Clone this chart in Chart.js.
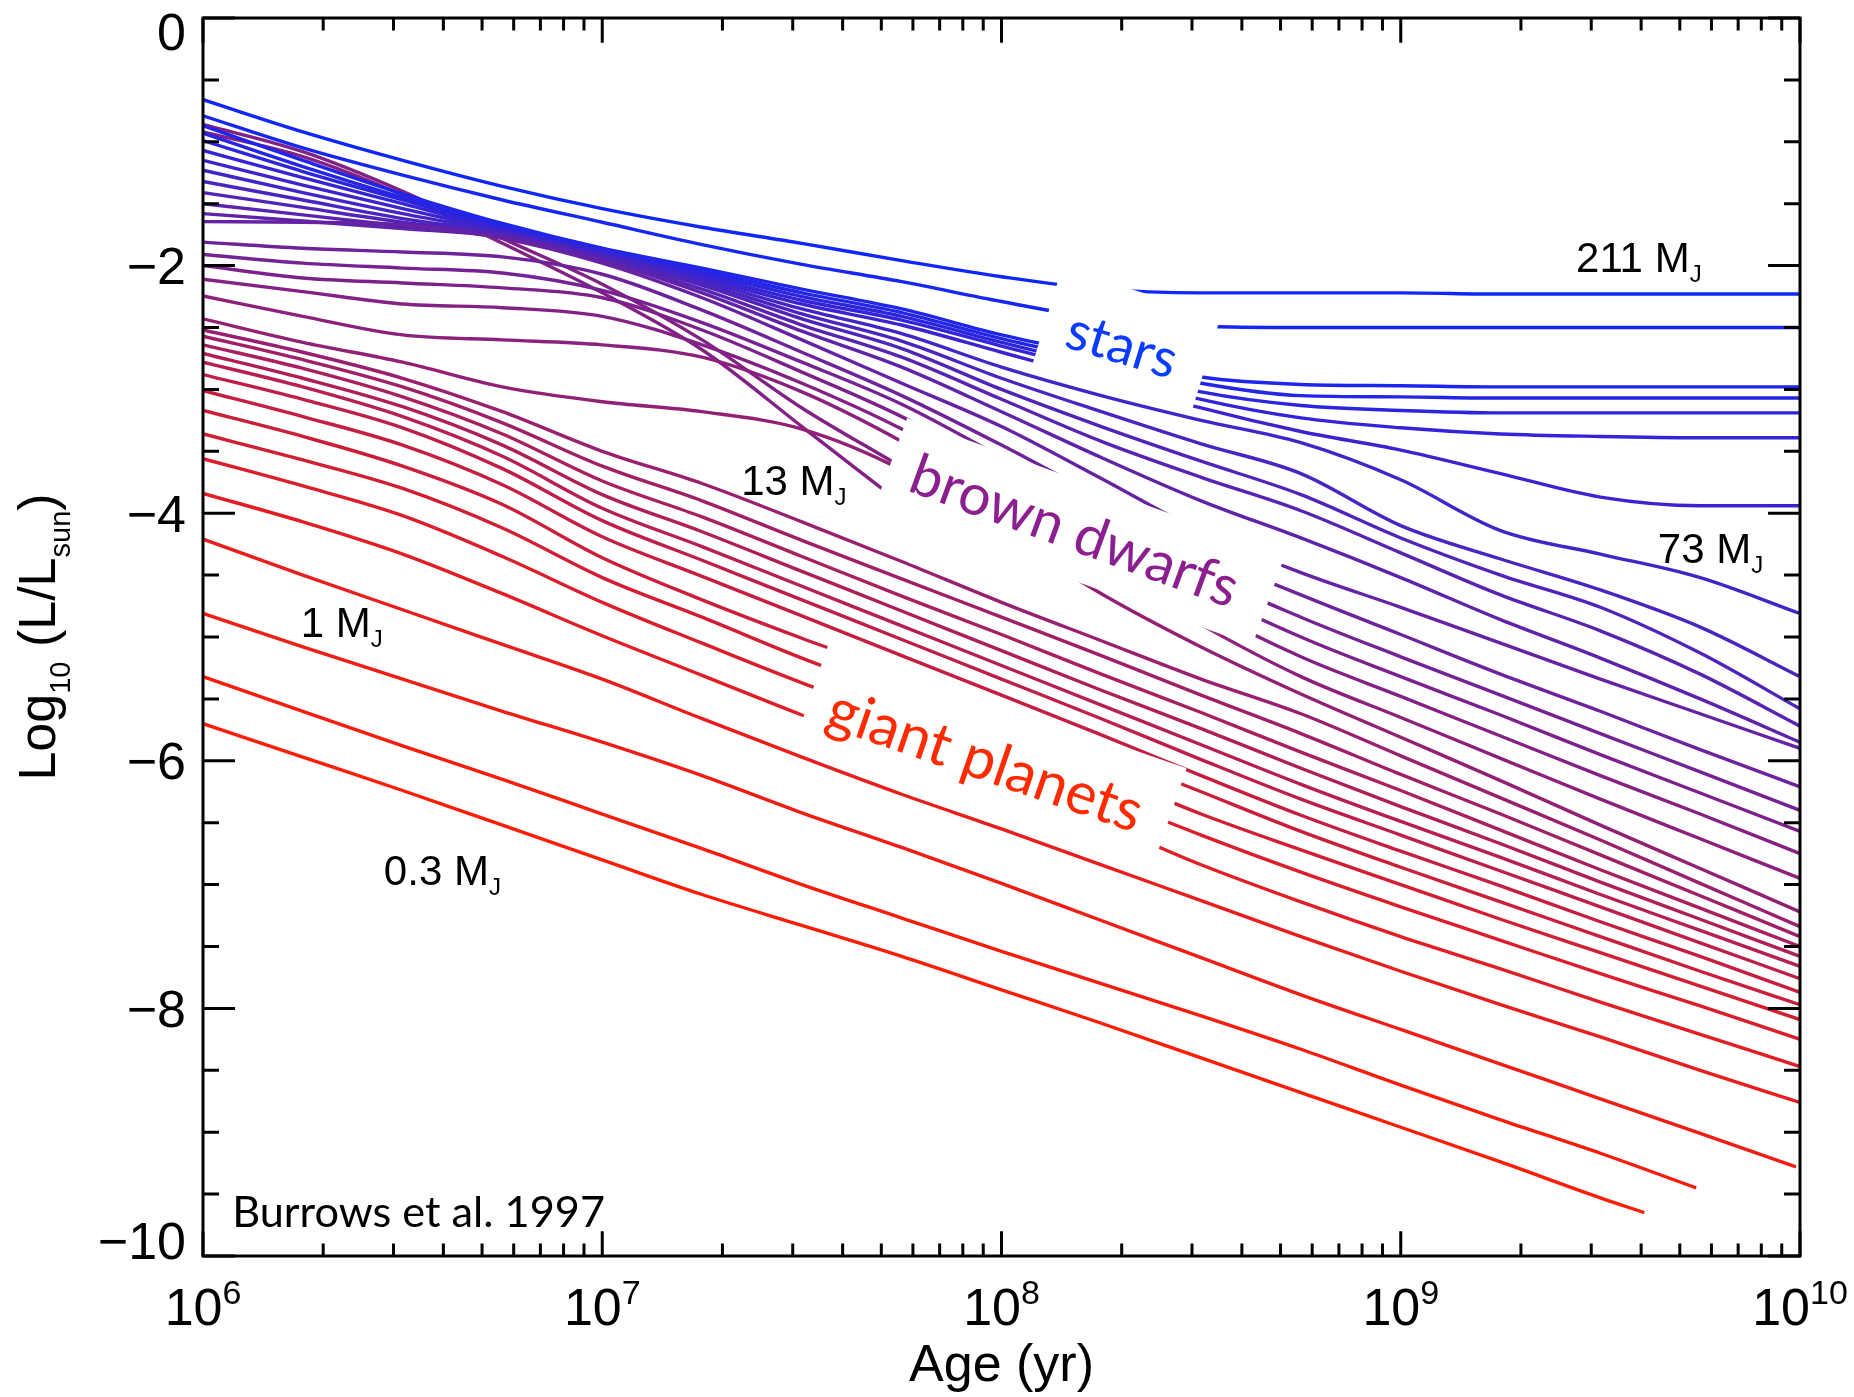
<!DOCTYPE html>
<html lang="en">
<head>
<meta charset="UTF-8">
<title>Luminosity evolution</title>
<script src="https://cdn.jsdelivr.net/npm/chart.js"></script>
<style>
  html, body { margin: 0; padding: 0; background: #fff; }
  canvas { display: block; }
</style>
</head>
<body>
<canvas id="lumChart" width="1854" height="1397"></canvas>
<script>
// log10(age / yr) sample points shared by most tracks
const ageGrid = [6.0, 6.25, 6.5, 6.75, 7.0, 7.25, 7.5, 7.75, 8.0, 8.25, 8.5, 8.75, 9.0, 9.25, 9.5, 9.75, 10.0];
// the three lightest tracks stop before 10 Gyr
const ageTrack01 = [6.0, 6.25, 6.5, 6.75, 7.0, 7.25, 7.5, 7.75, 8.0, 8.25, 8.5, 8.75, 9.0, 9.25, 9.5, 9.61];
const ageTrack02 = [6.0, 6.25, 6.5, 6.75, 7.0, 7.25, 7.5, 7.75, 8.0, 8.25, 8.5, 8.75, 9.0, 9.25, 9.5, 9.74];
const ageTrack03 = [6.0, 6.25, 6.5, 6.75, 7.0, 7.25, 7.5, 7.75, 8.0, 8.25, 8.5, 8.75, 9.0, 9.25, 9.5, 9.75, 9.99];

// log10(L/Lsun), lightest track first
const track01 = [-5.70, -5.97, -6.24, -6.52, -6.80, -7.08, -7.33, -7.58, -7.85, -8.12, -8.40, -8.68, -8.96, -9.24, -9.53, -9.65];
const track02 = [-5.32, -5.60, -5.88, -6.15, -6.43, -6.71, -7.00, -7.27, -7.54, -7.80, -8.06, -8.33, -8.62, -8.90, -9.17, -9.45];
const track03 = [-4.81, -5.08, -5.34, -5.60, -5.85, -6.12, -6.42, -6.70, -6.99, -7.29, -7.59, -7.89, -8.17, -8.45, -8.73, -9.01, -9.28];
const track04 = [-4.21, -4.50, -4.78, -5.06, -5.34, -5.66, -5.97, -6.27, -6.55, -6.84, -7.13, -7.42, -7.70, -7.97, -8.23, -8.50, -8.76];
const track05 = [-3.84, -4.07, -4.33, -4.65, -4.99, -5.31, -5.63, -5.93, -6.20, -6.50, -6.84, -7.14, -7.42, -7.68, -7.95, -8.21, -8.47];
const track06 = [-3.56, -3.78, -4.02, -4.35, -4.72, -5.05, -5.37, -5.66, -5.96, -6.28, -6.60, -6.90, -7.18, -7.45, -7.72, -7.98, -8.25];
const track07 = [-3.36, -3.57, -3.80, -4.12, -4.52, -4.84, -5.17, -5.47, -5.78, -6.10, -6.43, -6.72, -7.00, -7.28, -7.55, -7.82, -8.09];
const track08 = [-3.17, -3.38, -3.62, -3.93, -4.36, -4.70, -5.01, -5.30, -5.61, -5.93, -6.25, -6.57, -6.86, -7.14, -7.42, -7.70, -7.97];
const track09 = [-3.01, -3.22, -3.45, -3.77, -4.19, -4.51, -4.83, -5.15, -5.47, -5.79, -6.12, -6.44, -6.73, -7.01, -7.30, -7.58, -7.87];
const track10 = [-2.88, -3.08, -3.31, -3.64, -4.06, -4.38, -4.70, -5.02, -5.34, -5.66, -5.99, -6.31, -6.60, -6.89, -7.18, -7.47, -7.76];
const track11 = [-2.78, -2.98, -3.22, -3.54, -3.96, -4.27, -4.59, -4.91, -5.23, -5.55, -5.87, -6.19, -6.49, -6.78, -7.08, -7.37, -7.66];
const track12 = [-2.71, -2.91, -3.14, -3.45, -3.85, -4.15, -4.47, -4.79, -5.11, -5.43, -5.74, -6.06, -6.37, -6.67, -6.98, -7.28, -7.58];
const track13 = [-2.64, -2.83, -3.06, -3.36, -3.74, -4.03, -4.35, -4.67, -4.98, -5.30, -5.61, -5.93, -6.24, -6.56, -6.88, -7.19, -7.50];
const track14 = [-2.57, -2.76, -2.98, -3.27, -3.62, -3.90, -4.22, -4.53, -4.84, -5.15, -5.47, -5.78, -6.11, -6.43, -6.76, -7.09, -7.42];
const track15 = [-2.52, -2.70, -2.91, -3.18, -3.50, -3.76, -4.07, -4.39, -4.72, -5.03, -5.34, -5.62, -5.96, -6.30, -6.64, -6.99, -7.34];
const track16 = [-2.43, -2.62, -2.78, -2.98, -3.10, -3.18, -3.32, -3.65, -4.15, -4.65, -5.08, -5.46, -5.81, -6.16, -6.52, -6.87, -7.22];
const track17 = [-2.245, -2.41, -2.56, -2.60, -2.64, -2.74, -3.02, -3.42, -3.90, -4.42, -4.90, -5.32, -5.65, -5.98, -6.31, -6.63, -6.95];
const track18 = [-2.11, -2.21, -2.31, -2.34, -2.41, -2.64, -2.95, -3.32, -3.78, -4.28, -4.76, -5.16, -5.48, -5.80, -6.12, -6.43, -6.75];
const track19 = [-2.00, -2.10, -2.14, -2.18, -2.26, -2.52, -2.86, -3.22, -3.66, -4.15, -4.62, -5.00, -5.32, -5.63, -5.95, -6.26, -6.57];
const track20 = [-1.91, -1.98, -2.02, -2.06, -2.20, -2.46, -2.78, -3.12, -3.55, -4.02, -4.48, -4.84, -5.16, -5.47, -5.78, -6.09, -6.40];
const track21 = [-1.81, -1.86, -1.89, -1.93, -2.07, -2.36, -2.70, -3.05, -3.45, -3.88, -4.32, -4.66, -4.98, -5.30, -5.60, -5.91, -6.21];
const track22 = [-1.645, -1.65, -1.67, -1.78, -1.98, -2.26, -2.60, -2.95, -3.30, -3.72, -4.15, -4.48, -4.76, -5.05, -5.34, -5.62, -5.90];
const track23 = [-1.58, -1.64, -1.70, -1.77, -1.96, -2.22, -2.53, -2.82, -3.18, -3.55, -3.90, -4.20, -4.52, -4.86, -5.17, -5.50, -5.85];
const track24 = [-1.50, -1.59, -1.68, -1.76, -1.95, -2.19, -2.48, -2.74, -3.08, -3.42, -3.71, -3.98, -4.32, -4.66, -4.95, -5.30, -5.72];
const track25 = [-1.41, -1.53, -1.65, -1.75, -1.94, -2.16, -2.43, -2.67, -3.00, -3.30, -3.58, -3.85, -4.20, -4.50, -4.76, -5.13, -5.58];
const track26 = [-1.32, -1.47, -1.62, -1.74, -1.92, -2.14, -2.39, -2.61, -2.91, -3.18, -3.44, -3.68, -4.10, -4.37, -4.62, -4.92, -5.32];
const track27 = [-1.23, -1.41, -1.58, -1.73, -1.91, -2.12, -2.35, -2.55, -2.82, -3.05, -3.25, -3.43, -3.73, -4.14, -4.33, -4.52, -4.81];
const track28 = [-1.15, -1.35, -1.54, -1.72, -1.90, -2.10, -2.31, -2.48, -2.70, -2.92, -3.15, -3.34, -3.49, -3.68, -3.87, -3.94, -3.94];
const track29 = [-1.07, -1.29, -1.50, -1.71, -1.89, -2.08, -2.28, -2.44, -2.65, -2.86, -3.08, -3.23, -3.31, -3.36, -3.38, -3.39, -3.39];
const track30 = [-0.99, -1.24, -1.47, -1.70, -1.88, -2.06, -2.25, -2.41, -2.62, -2.82, -3.02, -3.13, -3.17, -3.19, -3.19, -3.19, -3.19];
const track31 = [-0.93, -1.20, -1.45, -1.68, -1.87, -2.04, -2.22, -2.38, -2.59, -2.77, -2.95, -3.05, -3.06, -3.07, -3.07, -3.07, -3.07];
const track32 = [-0.87, -1.15, -1.42, -1.66, -1.86, -2.02, -2.19, -2.35, -2.56, -2.73, -2.90, -2.96, -2.97, -2.98, -2.98, -2.98, -2.98];
const track33 = [-0.79, -1.05, -1.27, -1.47, -1.65, -1.83, -1.99, -2.13, -2.29, -2.43, -2.49, -2.50, -2.50, -2.50, -2.50, -2.50, -2.50];
const track34 = [-0.66, -0.92, -1.15, -1.36, -1.54, -1.69, -1.82, -1.96, -2.09, -2.19, -2.22, -2.22, -2.22, -2.23, -2.23, -2.23, -2.23];

// two short steep segments that stop at the brown dwarf label
const ageDropUpper = [6.0, 6.25, 6.5, 6.75, 7.0, 7.25, 7.5, 7.73];
const dropUpper = [-0.86, -1.08, -1.40, -1.78, -2.15, -2.60, -3.15, -3.59];
const ageDropLower = [6.0, 6.25, 6.5, 6.75, 7.0, 7.25, 7.5, 7.70];
const dropLower = [-0.92, -1.12, -1.43, -1.82, -2.22, -2.68, -3.30, -3.80];

// axis ticks
const yMajorTicks = [0, -2, -4, -6, -8, -10];
const yTickLabels = ['0', '\u22122', '\u22124', '\u22126', '\u22128', '\u221210'];
const xDecades = [6, 7, 8, 9, 10];

const tracks = [track01, track02, track03, track04, track05, track06, track07, track08, track09, track10,
                track11, track12, track13, track14, track15, track16, track17, track18, track19, track20,
                track21, track22, track23, track24, track25, track26, track27, track28, track29, track30,
                track31, track32, track33, track34];
const trackAges = tracks.map((_, i) => [ageTrack01, ageTrack02, ageTrack03][i] || ageGrid);

const RED = [255, 28, 5];
const BLUE = [15, 38, 252];
function mixColor(t) {
  const c = RED.map((r, k) => Math.round(r + (BLUE[k] - r) * t));
  return `rgb(${c[0]},${c[1]},${c[2]})`;
}
function toPoints(ages, lums) {
  return ages.map((a, i) => ({ x: a, y: lums[i] }));
}

const LINE_W = 3.4;
const datasets = tracks.map((lum, i) => ({
  data: toPoints(trackAges[i], lum),
  borderColor: mixColor(i / (tracks.length - 1)),
  borderWidth: LINE_W,
  pointRadius: 0,
  fill: false,
  cubicInterpolationMode: 'monotone'
}));
[[ageDropUpper, dropUpper], [ageDropLower, dropLower]].forEach(([a, l]) => {
  datasets.push({
    data: toPoints(a, l),
    borderColor: mixColor(0.52),
    borderWidth: LINE_W,
    pointRadius: 0,
    fill: false,
    cubicInterpolationMode: 'monotone'
  });
});

const SANS = '"Liberation Sans", Arial, Helvetica, sans-serif';
const HUMAN = 'Lato, "Open Sans", sans-serif';

// text made of runs with their own size and vertical shift
function drawRuns(ctx, runs, x, y, align) {
  let total = 0;
  runs.forEach(r => { ctx.font = `${r.size}px ${SANS}`; r.w = ctx.measureText(r.t).width; total += r.w; });
  let cx = align === 'center' ? x - total / 2 : (align === 'right' ? x - total : x);
  ctx.textAlign = 'left';
  ctx.textBaseline = 'alphabetic';
  runs.forEach(r => {
    ctx.font = `${r.size}px ${SANS}`;
    ctx.fillText(r.t, cx, y + (r.dy || 0));
    cx += r.w;
  });
}

// rotated group labels on a white panel; box = [u0, u1, v0, v1] around the text centre
const groupTags = [
  { text: 'stars', x: 8.302, y: -2.641, angle: 17, width: 113, color: '#0a3cff', box: [-80, 86, -56, 46] },
  { text: 'brown dwarfs', x: 8.184, y: -4.136, angle: 20, width: 345, color: '#8c1f8f', box: [-196, 206, -48, 48] },
  { text: 'giant planets', x: 7.956, y: -6.026, angle: 19, width: 329, color: '#ff2a00', box: [-186, 193, -62, 44] }
];

const massTags = [
  { num: '211 M', x: 9.439, y: -2.052 },
  { num: '73 M', x: 9.644, y: -4.402 },
  { num: '13 M', x: 7.348, y: -3.853 },
  { num: '1 M', x: 6.245, y: -5.0 },
  { num: '0.3 M', x: 6.453, y: -7.003 }
];

const decorations = {
  id: 'decorations',
  afterDatasetsDraw(chart) {
    const { ctx, scales: { x, y } } = chart;
    groupTags.forEach(tag => {
      ctx.save();
      ctx.translate(x.getPixelForValue(tag.x), y.getPixelForValue(tag.y));
      ctx.rotate(tag.angle * Math.PI / 180);
      ctx.fillStyle = '#fff';
      const [u0, u1, v0, v1] = tag.box;
      ctx.fillRect(u0, v0, u1 - u0, v1 - v0);
      ctx.font = `100px ${HUMAN}`;
      const size = 100 * tag.width / ctx.measureText(tag.text).width;
      ctx.font = `${size}px ${HUMAN}`;
      const m = ctx.measureText(tag.text);
      ctx.fillStyle = tag.color;
      ctx.textAlign = 'center';
      ctx.textBaseline = 'alphabetic';
      ctx.fillText(tag.text, 0, (m.actualBoundingBoxAscent - m.actualBoundingBoxDescent) / 2);
      ctx.restore();
    });
  },
  afterDraw(chart) {
    const { ctx, chartArea: a, scales: { x, y } } = chart;
    ctx.save();
    ctx.strokeStyle = '#000';
    ctx.fillStyle = '#000';
    ctx.lineWidth = 3;
    ctx.lineCap = 'butt';

    // frame
    ctx.strokeRect(a.left, a.top, a.right - a.left, a.bottom - a.top);

    const xMajor = 0.02 * (a.bottom - a.top);
    const yMajor = 0.02 * (a.right - a.left);
    ctx.beginPath();
    // x ticks, bottom and top
    xDecades.forEach((d, i) => {
      const px = x.getPixelForValue(d);
      ctx.moveTo(px, a.bottom); ctx.lineTo(px, a.bottom - xMajor);
      ctx.moveTo(px, a.top); ctx.lineTo(px, a.top + xMajor);
      if (i < xDecades.length - 1) {
        for (let k = 2; k <= 9; k++) {
          const pm = x.getPixelForValue(d + Math.log10(k));
          ctx.moveTo(pm, a.bottom); ctx.lineTo(pm, a.bottom - xMajor / 2);
          ctx.moveTo(pm, a.top); ctx.lineTo(pm, a.top + xMajor / 2);
        }
      }
    });
    // y ticks, left and right
    for (let v = 0; v >= -10; v -= 0.5) {
      const py = y.getPixelForValue(v);
      const len = yMajorTicks.includes(v) ? yMajor : yMajor / 2;
      ctx.moveTo(a.left, py); ctx.lineTo(a.left + len, py);
      ctx.moveTo(a.right, py); ctx.lineTo(a.right - len, py);
    }
    ctx.stroke();

    // y tick labels (end labels kept inside the frame height)
    ctx.font = `52px ${SANS}`;
    ctx.textAlign = 'right';
    ctx.textBaseline = 'alphabetic';
    yMajorTicks.forEach((v, i) => {
      let cy = y.getPixelForValue(v);
      if (v === 0) cy += 13;
      if (v === -10) cy -= 16;
      ctx.fillText(yTickLabels[i], a.left - 17, cy + 18.6);
    });

    // x tick labels 10^n
    xDecades.forEach(d => {
      drawRuns(ctx, [{ t: '10', size: 52 }, { t: String(d), size: 34, dy: -21 }],
        x.getPixelForValue(d), a.bottom + 69, 'center');
    });

    // axis titles
    drawRuns(ctx, [{ t: 'Age (yr)', size: 52 }], (a.left + a.right) / 2, a.bottom + 125, 'center');
    ctx.save();
    ctx.translate(55, (a.top + a.bottom) / 2);
    ctx.rotate(-Math.PI / 2);
    drawRuns(ctx, [
      { t: 'Log', size: 52 }, { t: '10', size: 29, dy: 15 },
      { t: ' (L/L', size: 52 }, { t: 'sun', size: 29, dy: 15 }, { t: ')', size: 52 }
    ], 0, 0, 'center');
    ctx.restore();

    // mass labels
    massTags.forEach(m => {
      drawRuns(ctx, [{ t: m.num, size: 42 }, { t: 'J', size: 24, dy: 10 }],
        x.getPixelForValue(m.x), y.getPixelForValue(m.y), 'left');
    });

    // reference note
    ctx.font = `100px ${HUMAN}`;
    const note = 'Burrows et al. 1997';
    const noteSize = 100 * 373 / ctx.measureText(note).width;
    ctx.font = `${noteSize}px ${HUMAN}`;
    ctx.textAlign = 'left';
    ctx.fillText(note, x.getPixelForValue(6.073), y.getPixelForValue(-9.766));
    ctx.restore();
  }
};

new Chart(document.getElementById('lumChart').getContext('2d'), {
  type: 'line',
  data: { datasets },
  options: {
    responsive: false,
    animation: false,
    layout: { padding: { left: 203, right: 54, top: 18, bottom: 141 } },
    scales: {
      x: { type: 'linear', min: 6, max: 10, display: false },
      y: { type: 'linear', min: -10, max: 0, display: false }
    },
    plugins: { legend: { display: false }, tooltip: { enabled: false } }
  },
  plugins: [decorations]
});
</script>
</body>
</html>
